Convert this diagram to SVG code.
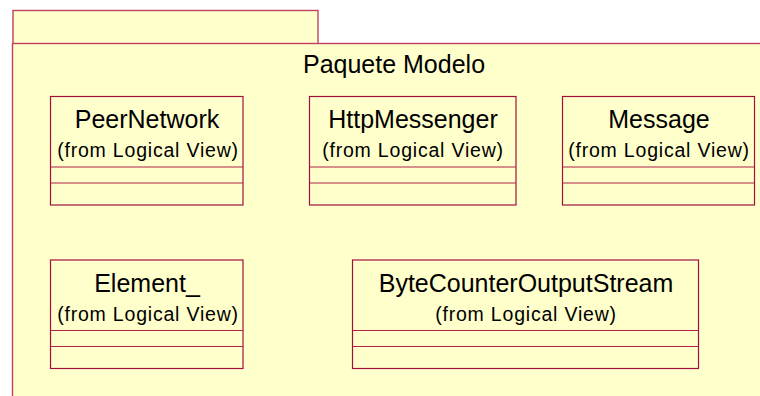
<svg xmlns="http://www.w3.org/2000/svg" width="760" height="396" viewBox="0 0 760 396">
  <style>
    .pkg { fill: #FFFFCC; stroke: #C0405E; stroke-width: 1.4; }
    .cls { fill: #FFFFCC; stroke: #A0103C; stroke-width: 1.2; }
    .sep { stroke: #B02048; stroke-width: 1.1; }
    .title { font-family: "Liberation Sans", Arial, sans-serif; font-size: 25px; fill: #000; text-anchor: middle; }
    .name { font-family: "Liberation Sans", Arial, sans-serif; font-size: 25px; fill: #000; text-anchor: middle; }
    .from { font-family: "Liberation Sans", Arial, sans-serif; font-size: 19.5px; letter-spacing: 0.8px; fill: #000; text-anchor: middle; }
  </style>
  <rect width="760" height="396" fill="#FFFFFF"/>

  <!-- package: tab and body -->
  <g id="paquete-modelo">
    <rect class="pkg" x="13" y="10.5" width="305" height="33.5"/>
    <rect class="pkg" x="12.5" y="43.5" width="770" height="370"/>
    <text class="title" x="394" y="73">Paquete Modelo</text>
  </g>

  <g id="connectors"></g>

  <g id="PeerNetwork">
    <rect class="cls" x="50.5" y="96.5" width="192.5" height="108.5"/>
    <line class="sep" x1="50.5" y1="167" x2="243" y2="167"/>
    <line class="sep" x1="50.5" y1="183" x2="243" y2="183"/>
    <text class="name" x="147" y="128">PeerNetwork</text>
    <text class="from" x="148" y="157">(from Logical View)</text>
  </g>

  <g id="HttpMessenger">
    <rect class="cls" x="309.5" y="96.5" width="206.5" height="108.5"/>
    <line class="sep" x1="309.5" y1="167" x2="516" y2="167"/>
    <line class="sep" x1="309.5" y1="183" x2="516" y2="183"/>
    <text class="name" x="413" y="128">HttpMessenger</text>
    <text class="from" x="413" y="157">(from Logical View)</text>
  </g>

  <g id="Message">
    <rect class="cls" x="562.5" y="96.5" width="192" height="108.5"/>
    <line class="sep" x1="562.5" y1="167" x2="754.5" y2="167"/>
    <line class="sep" x1="562.5" y1="183" x2="754.5" y2="183"/>
    <text class="name" x="659" y="128">Message</text>
    <text class="from" x="659" y="157">(from Logical View)</text>
  </g>

  <g id="Element_">
    <rect class="cls" x="50.5" y="260" width="192.5" height="108.5"/>
    <line class="sep" x1="50.5" y1="330.5" x2="243" y2="330.5"/>
    <line class="sep" x1="50.5" y1="346.5" x2="243" y2="346.5"/>
    <text class="name" x="147" y="291.5">Element_</text>
    <text class="from" x="148" y="320.5">(from Logical View)</text>
  </g>

  <g id="ByteCounterOutputStream">
    <rect class="cls" x="352.5" y="260" width="346" height="108.5"/>
    <line class="sep" x1="352.5" y1="330.5" x2="698.5" y2="330.5"/>
    <line class="sep" x1="352.5" y1="346.5" x2="698.5" y2="346.5"/>
    <text class="name" x="526" y="291.5">ByteCounterOutputStream</text>
    <text class="from" x="526" y="320.5">(from Logical View)</text>
  </g>
</svg>
